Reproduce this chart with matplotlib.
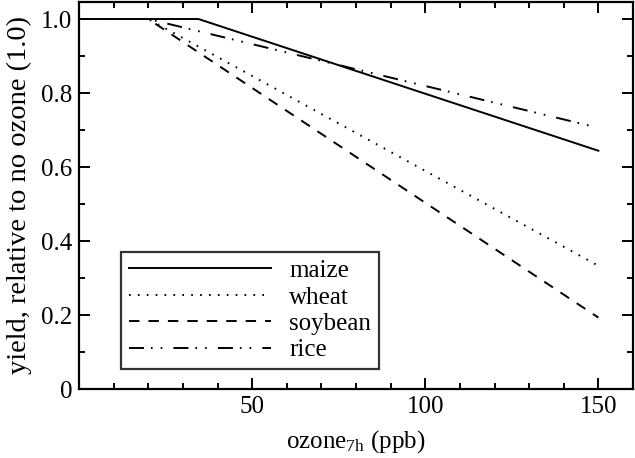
import matplotlib
matplotlib.use("Agg")
import matplotlib.pyplot as plt
from matplotlib.ticker import MultipleLocator, FixedLocator

plt.rcParams['font.family'] = ['Liberation Serif', 'DejaVu Serif']
plt.rcParams['mathtext.fontset'] = 'custom'
plt.rcParams['mathtext.rm'] = 'Liberation Serif'
plt.rcParams['mathtext.it'] = 'Liberation Serif:italic'
plt.rcParams['lines.scale_dashes'] = False

# data (ozone 7h mean in ppb, relative yield)
crops = ["maize", "wheat", "soybean", "rice"]
maize_x = [0, 34.5, 150]
maize_y = [1.0, 1.0, 0.644]
wheat_x = [0, 20, 150]
wheat_y = [1.0, 1.0, 0.333]
soybean_x = [0, 20, 150]
soybean_y = [1.0, 1.0, 0.193]
rice_x = [0, 20, 150]
rice_y = [1.0, 1.0, 0.706]

y_ticks = [0, 0.2, 0.4, 0.6, 0.8, 1.0]
y_ticklabels = ["0", "0.2", "0.4", "0.6", "0.8", "1.0"]
x_ticks = [50, 100, 150]
x_ticklabels = ["50", "100", "150"]

fig = plt.figure(figsize=(6.35, 4.58), dpi=100)
ax = fig.add_axes([79/635, 1 - 389/458, (633 - 79)/635, (389 - 2)/458])

lw = 1.4
ax.plot(maize_x, maize_y, color="black", lw=lw, linestyle="-", label="maize")
ax.plot(wheat_x, wheat_y, color="black", lw=lw, linestyle=(0, (1.2, 5.2)), label="wheat")
ax.plot(soybean_x, soybean_y, color="black", lw=lw, linestyle=(0, (7.5, 6.5)), label="soybean")
ax.plot(rice_x, rice_y, color="black", lw=lw,
        linestyle=(0, (10.8, 5.0, 1.2, 5.8, 1.2, 8.0)), label="rice")

ax.set_xlim(0, 160)
ax.set_ylim(0, 1.046)

ax.xaxis.set_major_locator(FixedLocator(x_ticks))
ax.set_xticklabels(x_ticklabels)
ax.xaxis.set_minor_locator(MultipleLocator(10))
ax.yaxis.set_major_locator(FixedLocator(y_ticks))
ax.set_yticklabels(y_ticklabels)
ax.yaxis.set_minor_locator(MultipleLocator(0.1))

ax.tick_params(which="both", direction="in", top=True, right=True, width=1.4,
               labelsize=18, pad=5)
ax.tick_params(which="major", length=8)
ax.tick_params(which="minor", length=4.3)
for s in ax.spines.values():
    s.set_linewidth(1.6)

ax.set_xlabel(r"ozone$_{\mathrm{7h}}$ (ppb)", fontsize=18, labelpad=7)
ax.set_ylabel("yield, relative to no ozone (1.0)", fontsize=20.5, labelpad=6)

leg = ax.legend(loc="lower left", bbox_to_anchor=((121 - 79)/554, (389 - 369)/387),
                fontsize=18, handlelength=142/25, handletextpad=0.75,
                labelspacing=0.16, borderpad=0.3, borderaxespad=0,
                fancybox=False, frameon=True, edgecolor="black")
leg.get_frame().set_linewidth(1.6)

fig.savefig("out.png", dpi=100)
